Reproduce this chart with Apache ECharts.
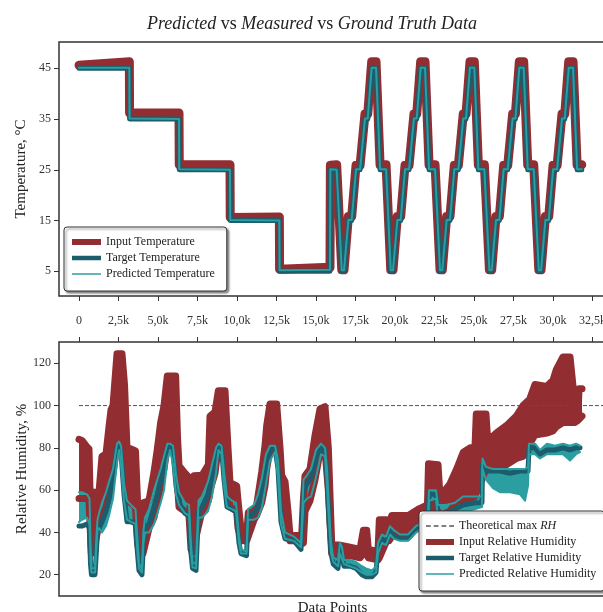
<!DOCTYPE html>
<html><head><meta charset="utf-8">
<script src="https://cdn.jsdelivr.net/npm/echarts@6/dist/echarts.min.js"></script>
<style>html,body{margin:0;padding:0;background:#fff}#c{width:603px;height:612px}</style>
</head><body><div id="c"></div>
<script>
// ---------- ticks ----------
const xTickValues = [0,2500,5000,7500,10000,12500,15000,17500,20000,22500,25000,27500,30000,32500];
const xTickLabels = ['0','2,5k','5,0k','7,5k','10,0k','12,5k','15,0k','17,5k','20,0k','22,5k','25,0k','27,5k','30,0k','32,5k'];
const tempTickValues = [5,15,25,35,45];
const rhTickValues = [20,40,60,80,100,120];

// ---------- temperature ----------
const tempX = [0,3186,3200,6329,6345,9557,9572,12680,12695,15886,15910,16308,
16630,16775,17050,17260,17535,17790,18100,18275,18525,18800,19055,19435,
19730,19875,20150,20360,20635,20890,21200,21375,21625,21900,22155,22535,
22850,22995,23270,23480,23755,24010,24320,24495,24745,25020,25275,25655,
25975,26120,26395,26605,26880,27135,27445,27620,27870,28145,28400,28780,
29100,29245,29520,29730,30005,30260,30570,30745,30995,31270,31525,31820];
const tempInput = [45.6,46.3,36.2,36.2,26,26,15.6,15.7,5.4,5.8,25.9,26,
5.3,5.3,15.8,15.8,25.9,25.9,36,36,46.3,46.3,26,26,
5.3,5.3,15.8,15.8,25.9,25.9,36,36,46.3,46.3,26,26,
5.3,5.3,15.8,15.8,25.9,25.9,36,36,46.3,46.3,26,26,
5.3,5.3,15.8,15.8,25.9,25.9,36,36,46.3,46.3,26,26,
5.3,5.3,15.8,15.8,25.9,25.9,36,36,46.3,46.3,26,26];
const tempTarget = [45,45,35,35,25,25,15,15,5,5,25,25,
5,5,15,15,25,25,35,35,45,45,25,25,
5,5,15,15,25,25,35,35,45,45,25,25,
5,5,15,15,25,25,35,35,45,45,25,25,
5,5,15,15,25,25,35,35,45,45,25,25,
5,5,15,15,25,25,35,35,45,45,25,25];
const tempPred = [45.1,45.1,35.1,35,25.1,25,15.1,15,5.2,5.3,25.1,25,
5.2,5.2,15.1,15.1,25.1,25.1,35.1,35.1,45.1,45.1,25.1,25.1,
5.2,5.2,15.1,15.1,25.1,25.1,35.1,35.1,45.1,45.1,25.1,25.1,
5.2,5.2,15.1,15.1,25.1,25.1,35.1,35.1,45.1,45.1,25.1,25.1,
5.2,5.2,15.1,15.1,25.1,25.1,35.1,35.1,45.1,45.1,25.1,25.1,
5.2,5.2,15.1,15.1,25.1,25.1,35.1,35.1,45.1,45.1,25.1,25.1];

// ---------- relative humidity ----------
const rhMaxX = [0, 33400];
const rhMaxY = [100, 100];

const rhInX = [0,190,505,633,780,850,915,1266,1455,1709,
1899,2025,2152,2405,2721,2880,3038,3290,3575,3703,
3830,3956,4050,4430,4747,4958,5169,5380,5590,6118,
6234,6329,6709,6962,7089,7173,7278,7785,8186,8291,
8607,8819,9241,9430,9557,9979,10065,10296,10612,10718,
11080,11245,11562,11772,11878,12089,12511,12722,12828,13038,
13228,13355,14094,14199,14304,14620,14937,15253,15569,15780,
15991,16097,16519,17152,17785,17996,18207,18312,18925,19008,
19472,19620,19789,20844,21477,22055,22120,22723,22848,23481,
23903,24325,24747,25060,25144,25758,25885,25990,26412,27045,
27678,28100,28522,28859,29597,29998,30209,30631,31076,31392,
31582,31646,31836];
const rhInHigh = [84,83.5,80.5,79.5,33,30.5,59,59,76,77,
90,98,100,124.5,124.5,110,80,79.5,78.5,55,
32,30.5,54,55,68.5,79.5,92,100,114,114,
85,71.5,68,66,40,32,66.8,67,72,95,
97,107,107,80,63.5,62,55,38.5,38.5,49.5,
50,53,68.5,81,90.5,100.8,100.8,80,67,64,
50,38.5,38.5,55,66.8,70,85.8,98.4,99.5,80,
35,34,34,33,32,41,41,32,31,46,
46,43,48,48,51,53,72.5,72,57,63,
70,78,80,80,96,96,81,84,87,90.5,
95,100,103,110,109,112,117,123,123,100,
96,108,108];
const rhInLow = [56,56,56,55,30,30,31,44,48,52,
58,62,68,82,82,65,55,54,52,35,
30,30,30,42,47,55,63,70,81,80,
63,52,50,48,32,30.5,31,50,55,60,
68,81,80,62,52,50,42,36,36,36,
46,48,54,62,70,79,80,70,56,50,
40,36,36,35,50,55,65,78,79,60,
30,30,29,29,28,30,30,28,27,28,
36,36,38,40,42,44,46,50,48,50,
55,55,56,57,57,70,70,70,71,72,
75,76,82,86,87,88,90,92,92,92,
93,93,95];

const rhX = [0,190,505,665,728,790,1013,1108,1170,1266,
1455,1709,1899,2152,2405,2532,2658,2848,3038,3290,
3575,3703,3797,3987,4082,4177,4430,4747,4958,5169,
5380,5590,5760,5950,6140,6329,6709,6962,7089,7184,
7405,7563,7785,8164,8418,8671,8829,9019,9177,9367,
9683,9936,10126,10253,10601,10696,11076,11329,11582,11835,
12089,12405,12595,12785,13038,13608,14051,14209,14431,14684,
15000,15316,15569,15696,15823,15950,16097,16392,16519,16645,
16772,17152,17531,17911,18164,18544,18797,18924,19177,19430,
19683,19936,20316,20822,21329,21835,22088,22152,22595,22721,
23228,23797,24304,25062,25505,25537,25758,26201,26644,27278,
27911,28227,28417,28480,28860,29176,29619,30125,30631,31076,
31456,31709];
const rhTarget = [43,43,44,42,25,20,20,32,41,42,
45,50,56,66,80,81,78,58,45,45,
44,30,22,20,35,42,44,52,58,64,
70,80,81,78,62,54,49,48,30,23,
22,50,52,58,66,76,81,80,65,52,
51,50,35,30,29,47,49,52,60,72,
79,80,70,45,37,36,32,60,63,66,
75,81,79,66,45,30,25,23,34,34,
24,24,23,20,19,19,21,33,37,35,
41,38,37,37,41,43,44,58,58,48,
49,51,53,54,54,72,69,69,69,68,
69,69,69,80,80,77,79,79,80,79,
80,80];
const rhPredLow = [45,46,47,44,26,21,21,33,41,42,
40,43,48,56,73,79,72,55,46,45,
44,30,23,21,35,40,40,44,49,54,
60,74,79,72,58,53,49,48,30,23.5,
23,47,47,50,57,68,79,77,62,52,
51,50,35,30,30,46,46,47,52,63,
74,78,66,44,37,36,33,54,56,57,
66,77,76,62,45,30,26,24,30,30,
25,24,23,21,20,20,21,30,35,34,
39,37,36,36,40,42,43,55,56,46,
47,49,50,51,52,70,65,61,59,59,
58,55,62,77,77,75,77,77,77,74,
77,78];
const rhPredHigh = [59,59,58,56,35,23,23,39,46,49,
54,59,64,70,82,83,81,63,55,53,
51,36,25,23,41,47,51,60,65,70,
76,82,82,81,67,59,54,53,34,26,
25,55,57,64,72,80,82,81,69,57,
55,54,38,32,31,51,53,58,66,77,
81,81,74,50,40,38,35,65,67,70,
79,82,80,70,52,35,28,27,35,33,
27,27,26,24,23,22,24,35,39,38,
43,41,39,39,43,45,46,60,60,53,
53,54,57,57,57,75,71,70,70,70,
70,70,71,82,82,79,82,81,82,81,
82,81];

// ---------- styling ----------
const FONT = 'Liberation Serif';
const RED = '#922d31';
const DARK = '#1b5d6d';
const LIGHT = '#2b9ea2';
const X_MIN = -1266, X_MAX = 33354;

const zip = (xs, ys) => xs.map((x, i) => [x, ys[i]]);
const xFmt = v => { const i = xTickValues.indexOf(v); return i >= 0 ? xTickLabels[i] : ''; };

function bandSeries(name, xs, lo, hi, color) {
  return {
    type: 'custom', name, xAxisIndex: 1, yAxisIndex: 1, silent: true,
    data: [[xs[0], lo[0]]], encode: { x: 0, y: 1 },
    renderItem: function (params, api) {
      const pts = [];
      for (let i = 0; i < xs.length; i++) pts.push(api.coord([xs[i], hi[i]]));
      for (let i = xs.length - 1; i >= 0; i--) pts.push(api.coord([xs[i], lo[i]]));
      return { type: 'polygon', shape: { points: pts }, style: { fill: color } };
    }
  };
}
function lineSeries(name, xi, xs, ys, color, width, extra) {
  return Object.assign({
    type: 'line', name, xAxisIndex: xi, yAxisIndex: xi === 0 ? 0 : 1,
    data: zip(xs, ys), symbol: 'none', silent: true, itemStyle: { color },
    lineStyle: { color, width, cap: 'round', join: 'round' }
  }, extra || {});
}

const tickStyle = { color: '#333', width: 1 };
const labelStyle = { fontFamily: FONT, fontSize: 12, color: '#333' };
const nameStyle = { fontFamily: FONT, fontSize: 15, color: '#222' };
const noLine = { show: false, onZero: false };
const legendBase = {
  orient: 'vertical', itemWidth: 29, itemHeight: 10, itemGap: 2,
  backgroundColor: '#fff', borderColor: '#333', borderWidth: 1, borderRadius: 3,
  shadowColor: 'rgba(0,0,0,0.45)', shadowOffsetX: 2, shadowOffsetY: 2, shadowBlur: 2,
  itemStyle: { borderWidth: 0 }, selectedMode: false,
  textStyle: { fontFamily: FONT, fontSize: 12, color: '#222', lineHeight: 14 }
};

const option = {
  animation: false,
  backgroundColor: '#fff',
  title: {
    text: '{i|Predicted} {n|vs} {i|Measured} {n|vs} {i|Ground Truth Data}',
    left: 312, textAlign: 'center', top: 15, padding: 0,
    textStyle: {
      fontFamily: FONT, fontSize: 18, color: '#222', fontWeight: 'normal',
      rich: {
        i: { fontFamily: FONT, fontSize: 18, fontStyle: 'italic', color: '#222' },
        n: { fontFamily: FONT, fontSize: 18, color: '#222' }
      }
    }
  },
  grid: [
    { left: 59, top: 42, width: 547, height: 254, show: true, borderColor: '#333', borderWidth: 1.5,
      backgroundColor: 'transparent', outerBoundsMode: 'none', containLabel: false },
    { left: 59, top: 342, width: 547, height: 254, show: true, borderColor: '#333', borderWidth: 1.5,
      backgroundColor: 'transparent', outerBoundsMode: 'none', containLabel: false }
  ],
  xAxis: [
    { type: 'value', gridIndex: 0, min: X_MIN, max: X_MAX, axisLine: noLine, splitLine: { show: false },
      axisTick: { show: true, length: 5, lineStyle: tickStyle, customValues: xTickValues },
      axisLabel: Object.assign({ margin: 19, customValues: xTickValues, formatter: xFmt }, labelStyle) },
    { type: 'value', gridIndex: 1, min: X_MIN, max: X_MAX, position: 'bottom', axisLine: noLine, splitLine: { show: false },
      axisTick: { show: false }, axisLabel: { show: false },
      name: 'Data Points', nameLocation: 'middle', nameGap: 5, nameTextStyle: nameStyle, nameMoveOverlap: false },
    { type: 'value', gridIndex: 1, min: X_MIN, max: X_MAX, position: 'top', axisLine: noLine, splitLine: { show: false },
      axisTick: { show: true, length: 5, lineStyle: tickStyle, customValues: xTickValues }, axisLabel: { show: false } }
  ],
  yAxis: [
    { type: 'value', gridIndex: 0, min: 0.13, max: 50.18, axisLine: noLine, splitLine: { show: false },
      axisTick: { show: true, length: 5, lineStyle: tickStyle, customValues: tempTickValues },
      axisLabel: Object.assign({ margin: 8, customValues: tempTickValues }, labelStyle),
      name: 'Temperature, °C', nameLocation: 'middle', nameGap: 30, nameRotate: 90, nameTextStyle: nameStyle, nameMoveOverlap: false },
    { type: 'value', gridIndex: 1, min: 9.92, max: 130.08, axisLine: noLine, splitLine: { show: false },
      axisTick: { show: true, length: 5, lineStyle: tickStyle, customValues: rhTickValues },
      axisLabel: Object.assign({ margin: 8, customValues: rhTickValues }, labelStyle),
      name: 'Relative Humidity, %', nameLocation: 'middle', nameGap: 29, nameRotate: 90, nameTextStyle: nameStyle, nameMoveOverlap: false }
  ],
  legend: [
    Object.assign({}, legendBase, {
      left: 64, top: 227, padding: [8, 12, 10, 8],
      data: [
        { name: 'Input Temperature', icon: 'path://M0,0H29V6H0Z', itemStyle: { color: RED } },
        { name: 'Target Temperature', icon: 'path://M0,0H29V4.5H0Z', itemStyle: { color: DARK } },
        { name: 'Predicted Temperature', icon: 'path://M0,0H29V1.5H0Z', itemStyle: { color: LIGHT } }
      ]
    }),
    Object.assign({}, legendBase, {
      left: 419, top: 511, padding: [8, 8, 10, 7], itemWidth: 28,
      formatter: n => n === 'Theoretical max RH' ? '{n|Theoretical max }{i|RH}' : '{n|' + n + '}',
      textStyle: { fontFamily: FONT, fontSize: 12, color: '#222', lineHeight: 14,
        rich: { n: { fontFamily: FONT, fontSize: 12, color: '#222' },
                i: { fontFamily: FONT, fontSize: 12, color: '#222', fontStyle: 'italic' } } },
      data: [
        { name: 'Theoretical max RH', icon: 'path://M0,0H4V1.2H0Z M6.5,0H10.5V1.2H6.5Z M13,0H17V1.2H13Z M19.5,0H23.5V1.2H19.5Z', itemStyle: { color: '#555' } },
        { name: 'Input Relative Humidity', icon: 'path://M0,0H28V6H0Z', itemStyle: { color: RED } },
        { name: 'Target Relative Humidity', icon: 'path://M0,0H28V4.5H0Z', itemStyle: { color: DARK } },
        { name: 'Predicted Relative Humidity', icon: 'path://M0,0H28V1.5H0Z', itemStyle: { color: LIGHT } }
      ]
    })
  ],
  series: [
    lineSeries('Input Temperature', 0, tempX, tempInput, RED, 9),
    lineSeries('Target Temperature', 0, tempX, tempTarget, DARK, 5),
    lineSeries('Predicted Temperature', 0, tempX, tempPred, LIGHT, 2),

    lineSeries('Theoretical max RH', 1, rhMaxX, rhMaxY, '#555', 1, { lineStyle: { color: '#555', width: 1, type: [4, 2] } }),
    bandSeries('Input Relative Humidity', rhInX, rhInLow, rhInHigh, RED),
    lineSeries('Input Relative Humidity', 1, rhInX, rhInHigh, RED, 7),
    lineSeries('Input Relative Humidity', 1, rhInX, rhInLow, RED, 7),
    lineSeries('Target Relative Humidity', 1, rhX, rhTarget, DARK, 5),
    bandSeries('Predicted Relative Humidity', rhX, rhPredLow, rhPredHigh, LIGHT),
    lineSeries('Predicted Relative Humidity', 1, rhX, rhPredLow, LIGHT, 2),
    lineSeries('Predicted Relative Humidity', 1, rhX, rhPredHigh, LIGHT, 2)
  ]
};
echarts.init(document.getElementById('c'), null, { renderer: 'canvas' }).setOption(option);
</script></body></html>
